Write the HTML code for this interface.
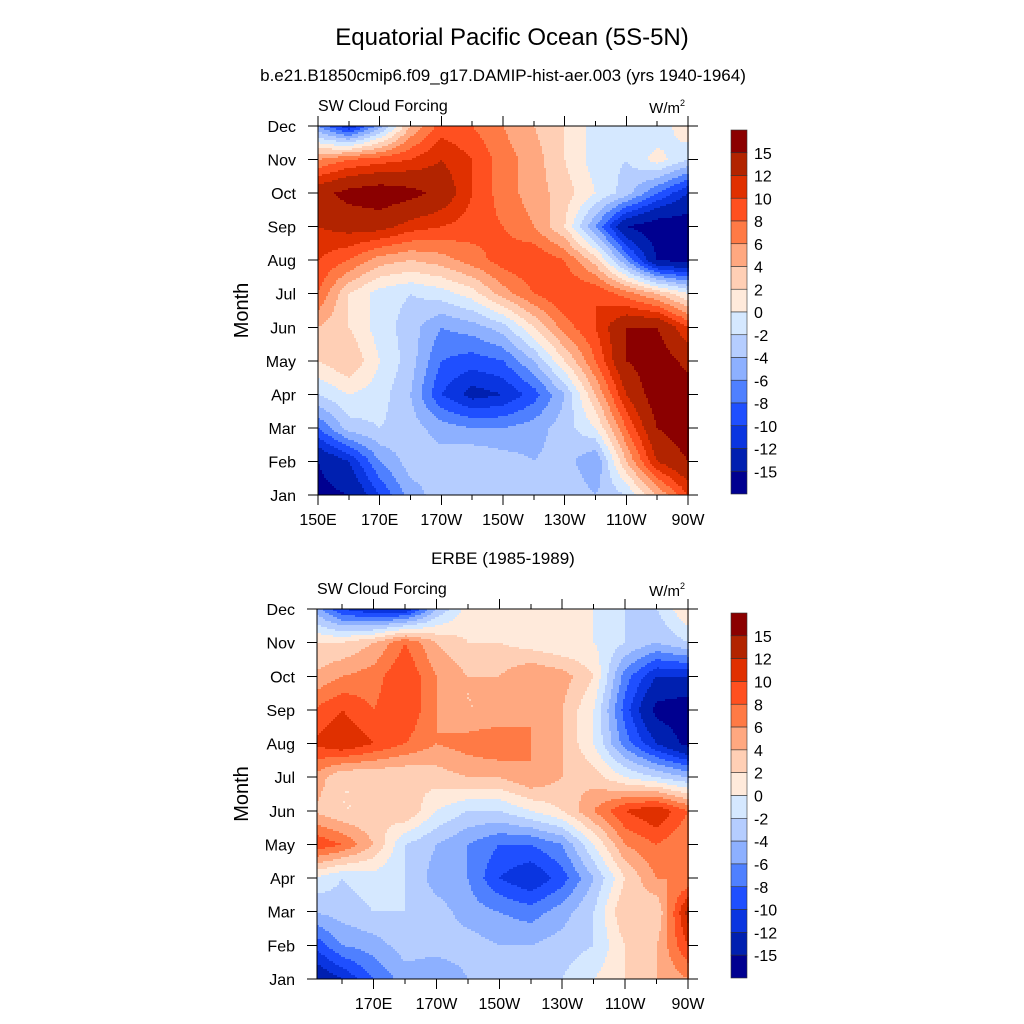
<!DOCTYPE html>
<html><head><meta charset="utf-8"><style>
body{margin:0;background:#fff;}
svg{display:block;font-family:"Liberation Sans",sans-serif;}
</style></head><body>
<svg id="s" width="1024" height="1024" viewBox="0 0 1024 1024" xmlns="http://www.w3.org/2000/svg">
<text x="512" y="45" font-size="24" text-anchor="middle">Equatorial Pacific Ocean (5S-5N)</text>
<text x="503" y="81" font-size="17" text-anchor="middle">b.e21.B1850cmip6.f09_g17.DAMIP-hist-aer.003 (yrs 1940-1964)</text>
<text x="503" y="564" font-size="17" text-anchor="middle">ERBE (1985-1989)</text>
</svg>
<script>
const months=["Jan","Feb","Mar","Apr","May","Jun","Jul","Aug","Sep","Oct","Nov","Dec"];
const lons=[150,160,170,180,190,200,210,220,230,240,250,260,270];
const levels=[-15,-12,-10,-8,-6,-4,-2,0,2,4,6,8,10,12,15];
const levelLabels=["15","12","10","8","6","4","2","0","-2","-4","-6","-8","-10","-12","-15"];
const colors=["#000090","#0020b0","#0a35e0","#1f4fff","#4f80ff","#8db0ff","#b5cdff","#d5e8ff","#ffeadb","#ffcfb5","#ffa880","#ff7a45","#ff5020","#e03000","#b22400","#8b0000"];
const xTicks=[150,170,190,210,230,250,270];
const xTickLabels=["150E","170E","170W","150W","130W","110W","90W"];
const modelData=[
[-16,-15,-10,-5,-3,-3,-3,-3,-2,-4,-2,4,10],
[-15,-12,-6,-3,-3,-2,-3,-4,-3,-6,4,12,15],
[-8,-3,-2,-3,-5,-6,-6,-5,-3,0,8,15,17],
[-2,0,-1,-4,-10,-13,-12,-9,-4,4,12,17,17],
[2,4,0,-3,-8,-9,-8,-4,2,8,15,17,14],
[4,2,-1,-3,-6,-5,-3,2,7,10,15,15,10],
[8,2,-1,-2,-1,1,5,8,10,10,7,4,0],
[10,8,5,4,5,7,9,10,8,3,-6,-15,-16],
[12,13,13,11,10,9,8,6,2,-6,-15,-17,-17],
[14,16,17,16,14,10,7,5,3,0,-3,-8,-12],
[6,8,9,10,12,10,7,5,2,-1,-2,1,-2],
[-6,-12,-5,4,9,8,6,4,2,-1,-2,-2,2]];
const obsData=[
[-15,-12,-8,-5,-6,-4,-2,-3,-2,0,2,4,6],
[-10,-6,-5,-3,-3,-3,-4,-4,-3,-2,2,4,10],
[-4,-3,-2,-2,-3,-5,-6,-7,-5,-2,4,2,13],
[0,-2,-1,-2,-5,-6,-10,-12,-9,-4,2,6,6],
[10,8,4,-2,-4,-6,-8,-8,-6,0,6,8,6],
[4,2,2,4,0,-2,-2,0,2,6,10,12,8],
[6,2,2,2,3,4,4,6,4,3,0,-2,-4],
[10,12,10,8,6,7,8,6,4,0,-7,-12,-16],
[8,10,8,10,6,4,4,6,4,0,-9,-16,-17],
[4,6,7,10,6,4,4,6,5,2,-7,-12,-12],
[2,2,4,8,4,2,2,1,0,0,-2,-4,-2],
[-4,-10,-12,-12,-4,1,2,1,0,0,-2,-2,2]];

const NS="http://www.w3.org/2000/svg";
const svg=document.getElementById('s');
function mk(tag,attrs,parent){const e=document.createElementNS(NS,tag);for(const k in attrs)e.setAttribute(k,attrs[k]);(parent||svg).appendChild(e);return e;}
function colorFor(v){let i=0;while(i<levels.length&&v>=levels[i])i++;return colors[i];}
function sample(data,lon,m){
  let fi=(lon-lons[0])/10;fi=Math.max(0,Math.min(lons.length-1,fi));
  let fj=Math.max(0,Math.min(11,m));
  const i0=Math.min(Math.floor(fi),lons.length-2),j0=Math.min(Math.floor(fj),10);
  const a=fi-i0,b=fj-j0;
  return data[j0][i0]*(1-a)*(1-b)+data[j0][i0+1]*a*(1-b)+data[j0+1][i0]*(1-a)*b+data[j0+1][i0+1]*a*b;
}
function panel(name,data,x0,x1,top,bot,lonMin,showFirst){
  const g=mk('g',{'shape-rendering':'crispEdges'},svg);
  
  
  const xs=l=>x0+(l-lonMin)/(270-lonMin)*(x1-x0);
  const ys=m=>bot-m/11*(bot-top);
  const cell=2;
  const nx=Math.ceil((x1-x0)/cell);
  for(let y=top;y<bot;y+=cell){
    const m=(bot-(y+cell/2))/(bot-top)*11;
    let runStart=x0,runCol=null;
    for(let k=0;k<=nx;k++){
      const x=x0+k*cell;
      let col=null;
      if(k<nx){const lon=lonMin+(Math.min(x+cell/2,x1)-x0)/(x1-x0)*(270-lonMin);col=colorFor(sample(data,lon,m));}
      if(col!==runCol){
        if(runCol){const xe=Math.min(x,x1);const r=mk('rect',{x:runStart,y:y,width:xe-runStart+1,height:Math.min(cell+1,bot-y),fill:runCol},g);
          
          }
        runStart=x;runCol=col;
      }
    }
  }
  mk('rect',{x:x0,y:top,width:x1-x0,height:bot-top,fill:'none',stroke:'#000','stroke-width':1},g);
  months.forEach((mo,i)=>{
    const y=ys(i);
    mk('line',{x1:x0-10,x2:x0,y1:y,y2:y,stroke:'#000'},g);
    mk('line',{x1:x1,x2:x1+10,y1:y,y2:y,stroke:'#000'},g);
    const t=mk('text',{x:x0-22,y:y+6,'font-size':16,'text-anchor':'end'},g);t.textContent=mo;
    
    
  });
  for(let l=150;l<=270;l+=10){
    if(l<lonMin)continue;const x=xs(l);const major=(l-150)%20===0;const len=major?10:5;
    mk('line',{x1:x,x2:x,y1:bot,y2:bot+len,stroke:'#000'},g);
    mk('line',{x1:x,x2:x,y1:top,y2:top-len,stroke:'#000'},g);
  }
  xTicks.forEach((l,i)=>{
    if(l<lonMin||(!showFirst&&i===0))return;
    const t=mk('text',{x:xs(l),y:bot+30,'font-size':16,'text-anchor':'middle'},g);t.textContent=xTickLabels[i];
    
    
  });
  const yt=mk('text',{x:0,y:0,'font-size':20,'text-anchor':'middle',transform:`translate(248,${(top+bot)/2}) rotate(-90)`},g);yt.textContent='Month';
  
  
  const lt=mk('text',{x:x0,y:top-15,'font-size':16},g);lt.textContent='SW Cloud Forcing';
  
  
  const ut=mk('text',{x:x1-3,y:top-13,'font-size':15,'text-anchor':'end'},g);ut.innerHTML='W/m<tspan font-size="9" dy="-7">2</tspan>';
  
  
  const cb=mk('g',{},svg);
  
  
  const cTop=top+4,cBot=bot-1,h=(cBot-cTop)/16;
  for(let k=0;k<16;k++){
    const r=mk('rect',{x:731,y:cTop+k*h,width:16,height:h,fill:colors[15-k],stroke:'#333','stroke-width':0.6},cb);
    
    
  }
  levelLabels.forEach((s,k)=>{
    const t=mk('text',{x:754,y:cTop+(k+1)*h+6,'font-size':16},cb);t.textContent=s;
    
    
  });
}
panel('model-panel',modelData,318,688,126,495,150,true);
panel('erbe-panel',obsData,317,688,609,979,152,false);
</script>
</body></html>
